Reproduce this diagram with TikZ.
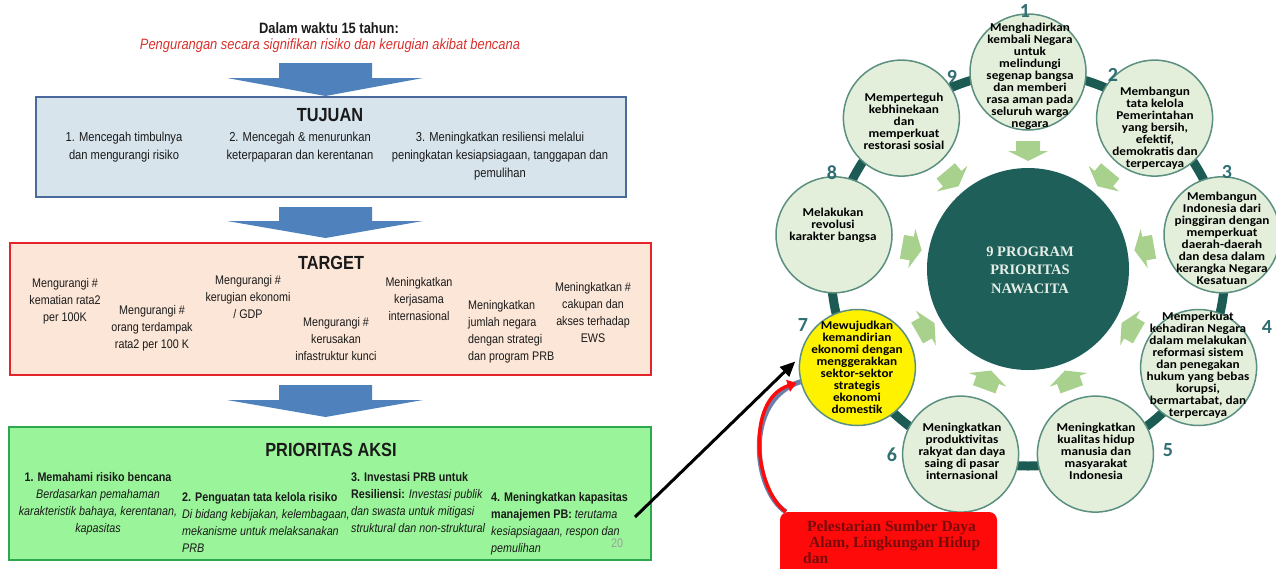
\documentclass[tikz,border=0pt]{standalone}
\usepackage{fontspec}
\setmainfont{Liberation Sans}
\newfontfamily\narfont[FakeStretch=0.86]{Liberation Sans}
\newfontfamily\calfont[FakeStretch=1.1]{Carlito}
\newfontfamily\numfont{Carlito}
\newfontfamily\serfont{Liberation Serif}
\usetikzlibrary{arrows.meta,calc}
\definecolor{tujfill}{HTML}{D7E4EC}
\definecolor{tujline}{HTML}{4A6A9C}
\definecolor{tarfill}{HTML}{FCE6D8}
\definecolor{tarline}{HTML}{E3242B}
\definecolor{prifill}{HTML}{9AF59A}
\definecolor{priline}{HTML}{2EA84F}
\definecolor{barrow}{HTML}{4F81BD}
\definecolor{redtxt}{HTML}{D9302C}
\definecolor{ringc}{HTML}{1C5B53}
\definecolor{cfill}{HTML}{E3EFDA}
\definecolor{cline}{HTML}{5B8F80}
\definecolor{numc}{HTML}{2F6E72}
\definecolor{garrow}{HTML}{A9D18E}
\definecolor{centc}{HTML}{1F5F59}
\definecolor{centtxt}{HTML}{E4EDE6}
\definecolor{boxred}{HTML}{FF0A0A}
\definecolor{boxtxt}{HTML}{7A0A0A}
\definecolor{steelb}{HTML}{6A7FA8}
\definecolor{txtc}{HTML}{1A1A1A}
\tikzset{
 lbox/.style={rectangle, line width=2.5pt, inner sep=0},
 headtxt/.style={font=\narfont\bfseries\fontsize{19}{22}\selectfont, text=txtc, inner sep=0},
 tjtxt/.style={font=\narfont\fontsize{13}{18}\selectfont, text=txtc, align=center, anchor=north, inner sep=0},
 tgtxt/.style={font=\narfont\fontsize{12.5}{17}\selectfont, text=txtc, align=center, anchor=north, inner sep=0},
 prtxt/.style={font=\narfont\fontsize{12.5}{17}\selectfont, text=txtc, inner sep=0},
 barr/.style={fill=barrow},
 rc/.style={circle, minimum size=116pt, draw=cline, line width=1.5pt, fill=cfill, inner sep=0},
 rct/.style={font=\calfont\bfseries\fontsize{12}{12}\selectfont, align=center, inner sep=0, text=black},
 numtxt/.style={font=\numfont\bfseries\fontsize{20}{20}\selectfont, text=numc, inner sep=0},
}
\begin{document}
\begin{tikzpicture}[x=1pt,y=-1pt]
\useasboundingbox (0,0) rectangle (1276,568);
% ---------------- left panel ----------------
\node[font=\narfont\bfseries\fontsize{15}{18}\selectfont, text=txtc, inner sep=0] (title) at (329,28) {Dalam waktu 15 tahun:};
\node[font=\narfont\itshape\fontsize{15}{18}\selectfont, text=redtxt, inner sep=0] (sub) at (330,46) {Pengurangan secara signifikan risiko dan kerugian akibat bencana};
% blue arrows
\fill[barr] (279,63) -- (372,63) -- (372,78) -- (423,78) -- (325.5,96) -- (227,78) -- (279,78) -- cycle;
\fill[barr] (279,207) -- (372,207) -- (372,221) -- (423,221) -- (325.5,238) -- (227,221) -- (279,221) -- cycle;
\fill[barr] (279,385) -- (372,385) -- (372,400) -- (423,400) -- (325.5,417) -- (227,400) -- (279,400) -- cycle;
% TUJUAN
\node[lbox, draw=tujline, fill=tujfill, minimum width=590pt, minimum height=100pt] (tujuan) at (331,147) {};
\node[headtxt] (tujh) at (330,115) {TUJUAN};
\node[tjtxt] (tj1) at (124,132) {1. Mencegah timbulnya\\dan mengurangi risiko};
\node[tjtxt] (tj2) at (300,132) {2. Mencegah \& menurunkan\\keterpaparan dan kerentanan};
\node[tjtxt] (tj3) at (500,132) {3. Meningkatkan resiliensi melalui\\peningkatan kesiapsiagaan, tanggapan dan\\pemulihan};
% TARGET
\node[lbox, draw=tarline, fill=tarfill, minimum width=641pt, minimum height=132pt] (target) at (330.5,309) {};
\node[headtxt] (tgh) at (331,263) {TARGET};
\node[tgtxt] (tg1) at (65,278.5) {Mengurangi \#\\kematian rata2\\per 100K};
\node[tgtxt] (tg2) at (152,305.5) {Mengurangi \#\\orang terdampak\\rata2 per 100 K};
\node[tgtxt] (tg3) at (248,275.5) {Mengurangi \#\\kerugian ekonomi\\/ GDP};
\node[tgtxt] (tg4) at (336,317.5) {Mengurangi \#\\kerusakan\\infastruktur kunci};
\node[tgtxt] (tg5) at (419,277.5) {Meningkatkan\\kerjasama\\internasional};
\node[tgtxt, align=left, anchor=north west] (tg6) at (468,300.5) {Meningkatkan\\jumlah negara\\dengan strategi\\dan program PRB};
\node[tgtxt] (tg7) at (593,282.5) {Meningkatkan \#\\cakupan dan\\akses terhadap\\EWS};
% PRIORITAS AKSI
\node[lbox, draw=priline, fill=prifill, minimum width=642pt, minimum height=133pt] (prior) at (330,493.5) {};
\node[headtxt] (prh) at (331,450) {PRIORITAS AKSI};
\node[prtxt, align=center, anchor=north] (pr1) at (98,472.5) {\textbf{1. Memahami risiko bencana}\\\textit{Berdasarkan pemahaman}\\\textit{karakteristik bahaya, kerentanan,}\\\textit{kapasitas}};
\node[prtxt, align=left, anchor=north west] (pr2) at (182,492.5) {\textbf{2. Penguatan tata kelola risiko}\\\textit{Di bidang kebijakan, kelembagaan,}\\\textit{mekanisme untuk melaksanakan}\\\textit{PRB}};
\node[prtxt, align=left, anchor=north west] (pr3) at (351,472.5) {\textbf{3. Investasi PRB untuk}\\\textbf{Resiliensi:} \textit{Investasi publik}\\\textit{dan swasta untuk mitigasi}\\\textit{struktural dan non-struktural}};
\node[prtxt, align=left, anchor=north west] (pr4) at (491,492.5) {\textbf{4. Meningkatkan kapasitas}\\\textbf{manajemen PB:} \textit{terutama}\\\textit{kesiapsiagaan, respon dan}\\\textit{pemulihan}};
\node[prtxt, text=black!38] (pgnum) at (617,543) {20};
% ---------------- right panel ----------------
\draw[ringc, line width=9pt] (1028,269) circle[radius=197pt];
\foreach \a in {90,50,10,-30,-70,-110,-150,170,130}{
  \fill[garrow, shift={({1028+119*cos(\a)},{269-119*sin(\a)})}, rotate=\a+180]
    (-9,-12) -- (1,-12) -- (1,-20) -- (11,0) -- (1,20) -- (1,12) -- (-9,12) -- cycle;
}
\node[circle, fill=centc, minimum size=202pt, inner sep=0] (center) at (1028,269) {};
\node[font=\serfont\bfseries\fontsize{14.5}{18.5}\selectfont, text=centtxt, align=center, inner sep=0] (centert) at (1030,270) {9 PROGRAM\\PRIORITAS\\NAWACITA};
\node[rc] (c1) at (1028,72) {};
\node[rc] (c2) at (1154.6,118.1) {};
\node[rc] (c3) at (1222,234.8) {};
\node[rc] (c4) at (1198.6,367.5) {};
\node[rc] (c5) at (1095.4,454.1) {};
\node[rc] (c6) at (960.6,454.1) {};
\node[rc, fill=yellow] (c7) at (857.4,367.5) {};
\node[rc] (c8) at (834,234.8) {};
\node[rc] (c9) at (901.4,118.1) {};
\node[rct] (c1t) at (1030,76) {Menghadirkan\\kembali Negara\\untuk\\melindungi\\segenap bangsa\\dan memberi\\rasa aman pada\\seluruh warga\\negara};
\node[rct] (c2t) at (1155,128) {Membangun\\tata kelola\\Pemerintahan\\yang bersih,\\efektif,\\demokratis dan\\terpercaya};
\node[rct] (c3t) at (1222,238) {Membangun\\Indonesia dari\\pinggiran dengan\\memperkuat\\daerah-daerah\\dan desa dalam\\kerangka Negara\\Kesatuan};
\node[rct] (c4t) at (1198,365) {Memperkuat\\kehadiran Negara\\dalam melakukan\\reformasi sistem\\dan penegakan\\hukum yang bebas\\korupsi,\\bermartabat, dan\\terpercaya};
\node[rct] (c5t) at (1096,451) {Meningkatkan\\kualitas hidup\\manusia dan\\masyarakat\\Indonesia};
\node[rct] (c6t) at (962,451) {Meningkatkan\\produktivitas\\rakyat dan daya\\saing di pasar\\internasional};
\node[rct] (c7t) at (857,367) {Mewujudkan\\kemandirian\\ekonomi dengan\\menggerakkan\\sektor-sektor\\strategis\\ekonomi\\domestik};
\node[rct] (c8t) at (833,225) {Melakukan\\revolusi\\karakter bangsa};
\node[rct] (c9t) at (904,121) {Memperteguh\\kebhinekaan\\dan\\memperkuat\\restorasi sosial};
\node[numtxt] (n1) at (1025,11) {1};
\node[numtxt] (n2) at (1113,75) {2};
\node[numtxt] (n3) at (1227,172) {3};
\node[numtxt] (n4) at (1267,327) {4};
\node[numtxt] (n5) at (1168,450) {5};
\node[numtxt] (n6) at (892,455) {6};
\node[numtxt] (n7) at (803,325) {7};
\node[numtxt] (n8) at (832,173) {8};
\node[numtxt] (n9) at (952,77) {9};
% red box
\node[rectangle, rounded corners=8pt, fill=boxred, minimum width=217pt, minimum height=70pt, inner sep=0] (redbox) at (888.5,547) {};
\node[font=\serfont\bfseries\fontsize{15.5}{16}\selectfont, text=boxtxt, align=left, anchor=north west, inner sep=0] (redt) at (803,521) {\hspace{4pt}Pelestarian Sumber Daya\\\hspace{6pt}Alam, Lingkungan Hidup\\dan};
% red curved arrow
\coordinate (rstart) at ($(redbox.north west)+(6,0)$);
\draw[steelb, line width=5pt, shift={(-2,0)}] (rstart) .. controls (755,490) and (745,400) .. (c7.194);
\draw[boxred, line width=3.5pt, shorten >=4pt, -{Triangle[length=9pt,width=12pt]}] (rstart) .. controls (755,490) and (745,400) .. (c7.194);
% black arrow
\coordinate (bstart) at (635,517);
\draw[black, line width=3pt, shorten >=6pt, -{Triangle[length=15pt,width=13pt]}] (bstart) -- (c7.170);
\end{tikzpicture}
\end{document}
